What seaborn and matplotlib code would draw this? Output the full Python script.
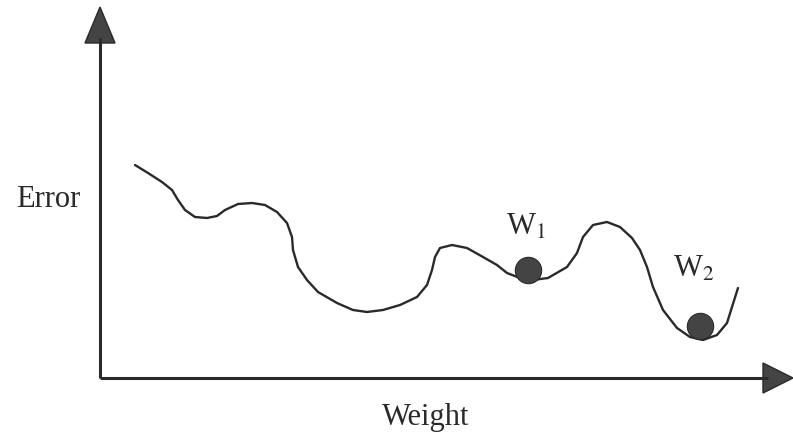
import matplotlib
matplotlib.use("Agg")
import matplotlib.pyplot as plt
import seaborn as sns
import pandas as pd
from matplotlib.patches import Polygon

# error surface (weight, error in arbitrary units)
weight = [35, 48, 62, 72, 78, 85, 95, 107, 117, 125, 138, 152, 165, 177,
          187, 192, 193, 198, 207, 218, 237, 253, 267, 283, 300, 317, 327,
          332, 335, 340, 352, 367, 383, 397, 407, 420, 433, 448, 467, 477,
          483, 493, 507, 520, 532, 540, 547, 553, 563, 577, 590, 603, 617,
          627, 632, 638]
error = [213, 205, 196, 188, 178, 168, 161, 160, 162, 168, 174, 175, 173,
         166, 155, 141, 128, 111, 98, 86, 75, 68, 66, 68, 73, 81, 93, 108,
         121, 130, 133, 130, 121, 113, 105, 100, 98, 100, 111, 125, 141, 153,
         156, 151, 140, 128, 111, 91, 68, 50, 41, 38, 43, 55, 71, 90]
ball_weight = [428, 600]
ball_error = [108, 52]
ball_labels = ["W$_1$", "W$_2$"]

sns.set_theme(style="white")
plt.rcParams["font.family"] = ["Liberation Serif", "DejaVu Serif"]
plt.rcParams["mathtext.fontset"] = "stix"

fig = plt.figure(figsize=(7.93, 4.33), dpi=100)
ax = fig.add_axes([0, 0, 1, 1])
ax.set_xlim(-100, 693)
ax.set_ylim(-55, 378)
ax.axis("off")

ink = "#2a2a2a"
df = pd.DataFrame({"weight": weight, "error": error})
sns.lineplot(data=df, x="weight", y="error", ax=ax, color=ink, lw=1.7,
             sort=False, solid_joinstyle="round", solid_capstyle="round")
sns.scatterplot(x=ball_weight, y=ball_error, ax=ax, s=360, color="#444444",
                edgecolor=ink, linewidth=0.8, zorder=5)

# axes with arrow heads
ax.plot([0, 0], [0, 340], color=ink, lw=2.2, solid_capstyle="butt")
ax.plot([0, 668], [0, 0], color=ink, lw=2.2, solid_capstyle="butt")
ax.add_patch(Polygon([[0, 371], [-15, 335], [15, 335]], closed=True,
                     facecolor="#444444", edgecolor=ink, lw=1))
ax.add_patch(Polygon([[693, 0], [663, 15], [663, -15]], closed=True,
                     facecolor="#444444", edgecolor=ink, lw=1))

ax.text(-52, 171, "Error", fontsize=22, color=ink, ha="center",
        va="baseline")
ax.text(326, -47, "Weight", fontsize=22, color=ink, ha="center",
        va="baseline")
label_pos = [(426, 143), (594, 101)]
for (lx, ly), lab in zip(label_pos, ball_labels):
    ax.text(lx, ly, lab, fontsize=22, color=ink, ha="center", va="baseline")

fig.savefig("out.png", dpi=100)
